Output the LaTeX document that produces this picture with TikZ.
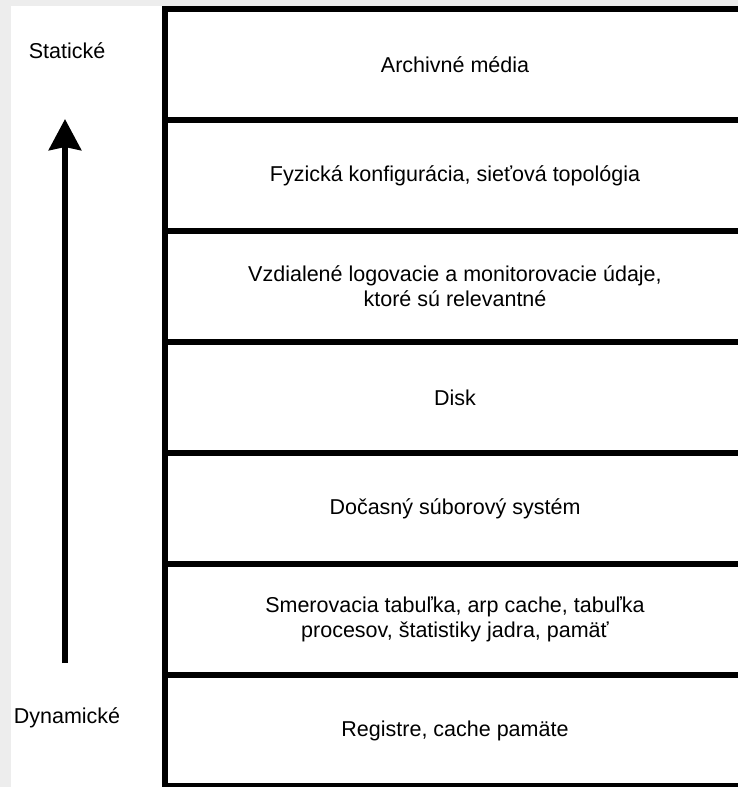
\documentclass[tikz,border=0pt]{standalone}
\usepackage{fontspec}
\setmainfont{Liberation Sans}
\usetikzlibrary{arrows.meta}

\tikzset{
  layer/.style={draw=black, line width=6pt, fill=none, rectangle,
    minimum width=580pt, minimum height=111pt, inner sep=0pt,
    align=center, font=\fontsize{21.5}{25}\selectfont},
  sidelabel/.style={inner sep=0pt, font=\fontsize{21.5}{25}\selectfont},
  flow/.style={line width=6.5pt, -{Stealth[length=31pt, width=32pt, inset=3pt]}}
}

\begin{document}
\begin{tikzpicture}[x=1pt, y=-1pt]
  % canvas: light grey surround with white sheet
  \fill[black!7] (0,0) rectangle (738,787);
  \fill[white] (11,6) rectangle (738,787);
  \useasboundingbox (0,0) rectangle (738,787);

  % stacked layers, most static on top
  \node[layer] (b1) at (455,64.5)  {Archivné média};
  \node[layer] (b2) at (455,175.5) {Fyzická konfigurácia, sieťová topológia};
  \node[layer] (b3) at (455,286.5) {Vzdialené logovacie a monitorovacie údaje,\\ktoré sú relevantné};
  \node[layer] (b4) at (455,397.5) {Disk};
  \node[layer] (b5) at (455,508.5) {Dočasný súborový systém};
  \node[layer] (b6) at (455,619.5) {Smerovacia tabuľka, arp cache, tabuľka\\procesov, štatistiky jadra, pamäť};
  \node[layer] (b7) at (455,730.5) {Registre, cache pamäte};

  % side labels and direction arrow
  \node[sidelabel] (stat) at (67,51) {Statické};
  \node[sidelabel] (dyn)  at (67,718) {Dynamické};
  \coordinate (arrowlow)  at (65,663);
  \coordinate (arrowhigh) at (65,119);
  \draw[flow] (arrowlow) -- (arrowhigh);
\end{tikzpicture}
\end{document}
